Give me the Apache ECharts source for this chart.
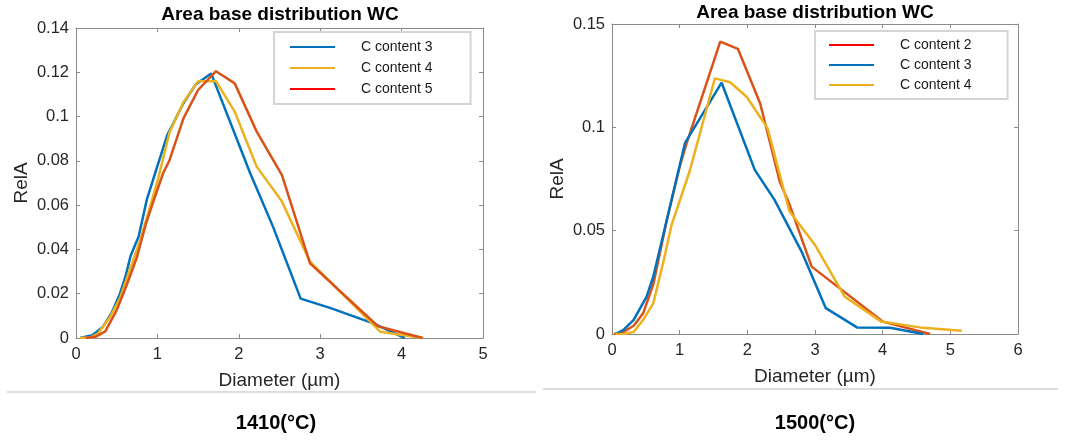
<!DOCTYPE html>
<html>
<head>
<meta charset="utf-8">
<script src="https://cdn.jsdelivr.net/npm/echarts@6/dist/echarts.min.js"></script>
<style>html,body{margin:0;padding:0;background:#fff}#c{width:1066px;height:441px}</style>
</head>
<body>
<div id="c"></div>
<script>
// ---- data (Diameter µm, RelA) ----
const left_c3 = [[0.05,0],[0.2,0.0012],[0.33,0.005],[0.44,0.0115],[0.54,0.02],[0.61,0.028],[0.67,0.037],[0.77,0.0458],[0.87,0.0625],[0.99,0.0765],[1.12,0.0915],[1.32,0.106],[1.47,0.1145],[1.66,0.1195],[2.14,0.0744],[2.42,0.0503],[2.76,0.0178],[3.12,0.0136],[3.66,0.0065],[4.04,0]];
const left_c4 = [[0.05,0],[0.17,0.0002],[0.27,0.002],[0.42,0.0096],[0.54,0.018],[0.66,0.0307],[0.79,0.0443],[0.91,0.0593],[1.01,0.0721],[1.15,0.093],[1.32,0.1065],[1.5,0.116],[1.72,0.116],[1.95,0.1022],[2.22,0.0774],[2.53,0.0616],[2.875,0.0345],[3.74,0.0028],[3.86,0.0021],[4.26,0]];
const left_c5 = [[0.12,0],[0.25,0.0007],[0.36,0.003],[0.5,0.0126],[0.63,0.0246],[0.75,0.0367],[0.86,0.0517],[0.97,0.0638],[1.07,0.0744],[1.15,0.0804],[1.32,0.0992],[1.5,0.112],[1.72,0.1205],[1.95,0.115],[2.22,0.0932],[2.53,0.0736],[2.875,0.0337],[3.71,0.0053],[4.26,0]];
const right_c2 = [[0.03,0],[0.17,0.001],[0.32,0.004],[0.46,0.01],[0.61,0.024],[0.81,0.055],[1.0,0.081],[1.1,0.092],[1.6,0.1415],[1.86,0.138],[2.19,0.1115],[2.48,0.0737],[2.62,0.063],[2.95,0.0326],[4.0,0.006],[4.7,0]];
const right_c3 = [[0.05,0],[0.17,0.002],[0.32,0.0068],[0.51,0.018],[0.61,0.0277],[1.08,0.0925],[1.62,0.1216],[2.11,0.0794],[2.4,0.065],[2.8,0.04],[3.16,0.0125],[3.62,0.0032],[4.11,0.003],[4.6,0]];
const right_c4 = [[0.05,0],[0.17,0],[0.32,0.001],[0.46,0.0068],[0.61,0.0148],[0.76,0.035],[0.88,0.0527],[1.15,0.079],[1.52,0.1237],[1.745,0.1218],[1.99,0.1148],[2.3,0.0995],[2.62,0.0595],[3.0,0.0431],[3.44,0.018],[3.98,0.006],[4.55,0.0032],[5.17,0.0016]];
const leftNames = ['C content 3','C content 4','C content 5'];
const rightNames = ['C content 2','C content 3','C content 4'];
const panelTitles = ['Area base distribution WC','Area base distribution WC'];
const panelLabels = ['1410(°C)','1500(°C)'];
const xAxisName = 'Diameter (µm)';
const yAxisName = 'RelA';
const xMax = [5, 6];
const yMax = [0.14, 0.15];
const yStep = [0.02, 0.05];

const BLUE = '#0072BD', YEL = '#EDB120', ORG = '#D95319', LEGRED = '#FF0000';
const FONT = 'Liberation Sans, Arial, sans-serif';
const AX = '#8a8a8a', TXT = '#262626';

const grids = [
  {left: 76, top: 28, width: 407, height: 310},
  {left: 612, top: 24, width: 406, height: 310}
];

function mkX(g, pos){
  return {type:'value', gridIndex:g, position:pos, min:0, max:xMax[g], interval:1,
    name: pos==='bottom'? xAxisName : '', nameLocation:'middle', nameGap:33,
    nameTextStyle:{fontFamily:FONT, fontSize:19, color:TXT},
    axisLine:{show:true, onZero:false, lineStyle:{color:AX, width:1}},
    axisTick:{show:true, inside:true, length:4, lineStyle:{color:AX}},
    axisLabel:{show: pos==='bottom', fontFamily:FONT, fontSize:16.5, color:TXT, margin:8},
    splitLine:{show:false}};
}
function mkY(g, pos){
  return {type:'value', gridIndex:g, position:pos, min:0, max:yMax[g], interval:yStep[g],
    name: pos==='left'? yAxisName : '', nameLocation:'middle', nameGap:45,
    nameTextStyle:{fontFamily:FONT, fontSize:19, color:TXT},
    axisLine:{show:true, onZero:false, lineStyle:{color:AX, width:1}},
    axisTick:{show:true, inside:true, length:4, lineStyle:{color:AX}},
    axisLabel:{show: pos==='left', fontFamily:FONT, fontSize:16.5, color:TXT, margin:7},
    splitLine:{show:false}};
}
function mkS(name, data, color, g){
  return {type:'line', name:name, data:data, xAxisIndex: g*2, yAxisIndex: g*2,
    showSymbol:false, symbol:'none', smooth:false, clip:true,
    lineStyle:{color:color, width:2.5}, itemStyle:{color:color}, z: 3};
}
function mkLegend(names, colors, left, top, pad, gap){
  return {orient:'vertical', left:left, top:top, padding:pad,
    icon:'rect', itemWidth:45, itemHeight:2, itemGap:gap,
    backgroundColor:'#fff', borderColor:'#d4d4d4', borderWidth:2, borderRadius:0,
    selectedMode:false,
    textStyle:{fontFamily:FONT, fontSize:14, color:'#1a1a1a', lineHeight:16, padding:[0,0,0,21]},
    data: names.map((n,i)=>({name:n, icon:'rect', itemStyle:{color:colors[i]}}))};
}

const option = {
  animation:false,
  backgroundColor:'#fff',
  grid: grids,
  xAxis:[mkX(0,'bottom'), mkX(0,'top'), mkX(1,'bottom'), mkX(1,'top')],
  yAxis:[mkY(0,'left'), mkY(0,'right'), mkY(1,'left'), mkY(1,'right')],
  title:[
    {text:panelTitles[0], left:280, top:5, textAlign:'center', padding:0, textStyle:{fontFamily:FONT, fontSize:19, fontWeight:'bold', color:'#000'}},
    {text:panelTitles[1], left:815, top:3, textAlign:'center', padding:0, textStyle:{fontFamily:FONT, fontSize:19, fontWeight:'bold', color:'#000'}},
    {text:panelLabels[0], left:276, top:413, textAlign:'center', padding:0, textStyle:{fontFamily:FONT, fontSize:20, fontWeight:'bold', color:'#000'}},
    {text:panelLabels[1], left:815, top:413, textAlign:'center', padding:0, textStyle:{fontFamily:FONT, fontSize:20, fontWeight:'bold', color:'#000'}}
  ],
  legend:[
    mkLegend(leftNames, [BLUE, YEL, LEGRED], 274, 32, [7,38,7,16], 5),
    mkLegend(rightNames, [LEGRED, BLUE, YEL], 815, 31, [6,36,6,14], 4)
  ],
  graphic:[
    {type:'line', shape:{x1:7, y1:392, x2:536, y2:392}, style:{stroke:'#d2d2d2', lineWidth:1.5}, silent:true},
    {type:'line', shape:{x1:543, y1:389, x2:1058, y2:389}, style:{stroke:'#d2d2d2', lineWidth:1.5}, silent:true}
  ],
  series:[
    mkS(leftNames[0], left_c3, BLUE, 0),
    mkS(leftNames[1], left_c4, YEL, 0),
    mkS(leftNames[2], left_c5, ORG, 0),
    mkS(rightNames[0], right_c2, ORG, 1),
    mkS(rightNames[1], right_c3, BLUE, 1),
    mkS(rightNames[2], right_c4, YEL, 1)
  ]
};
const chart = echarts.init(document.getElementById('c'), null, {renderer:'canvas'});
chart.setOption(option);
</script>
</body>
</html>
